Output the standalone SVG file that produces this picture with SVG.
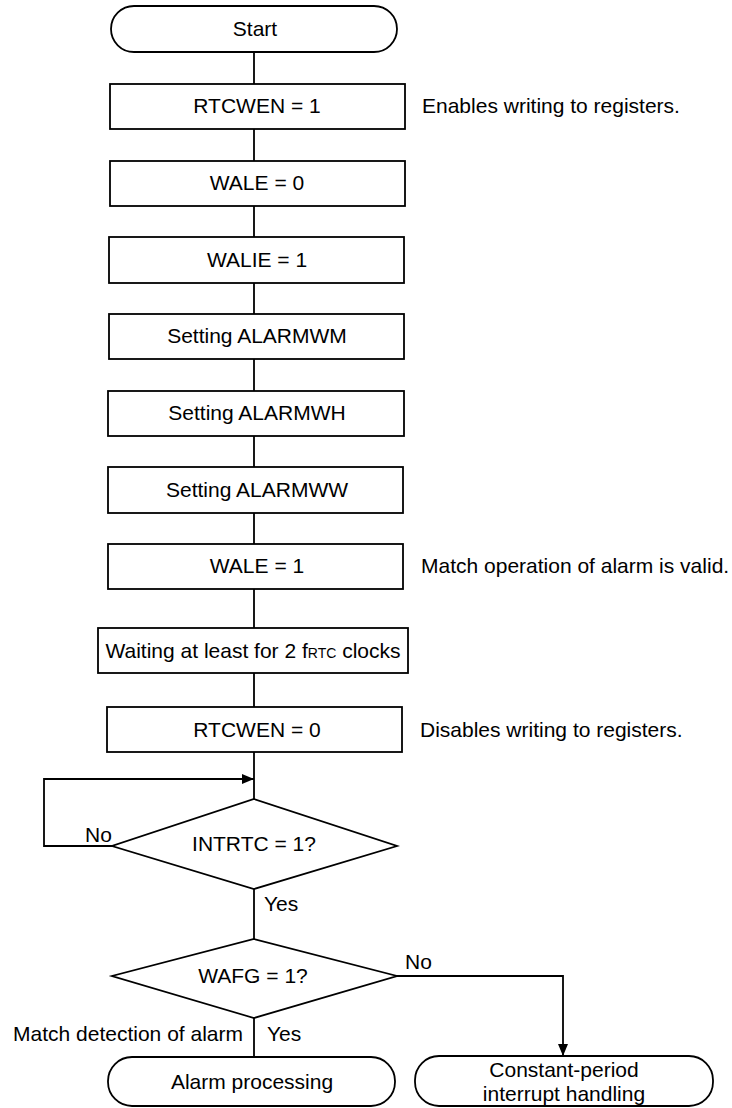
<svg xmlns="http://www.w3.org/2000/svg" width="732" height="1108" viewBox="0 0 732 1108">
<style>
.box{fill:#fff;stroke:#000;stroke-width:1.8}
.ln{fill:none;stroke:#000;stroke-width:1.8}
text{font-family:"Liberation Sans",Arial,sans-serif;font-size:21px;fill:#000}
.c{text-anchor:middle}
.sm{font-size:14px}
</style>
<defs>
<marker id="ah" markerWidth="12" markerHeight="10" refX="12" refY="5" orient="auto" markerUnits="userSpaceOnUse">
<path d="M0,0 L12,5 L0,10 Z" fill="#000"/>
</marker>
</defs>
<g id="connectors">
<path class="ln" d="M254,52 V84 M254,129 V161 M254,206 V237 M254,283 V314 M254,359 V391 M254,436 V467 M254,513 V544 M254,589 V628 M254,673 V707 M254,752 V799"/>
<path class="ln" d="M112,846 H44 V779 H254" marker-end="url(#ah)"/>
<path class="ln" d="M254,889 V939"/>
<path class="ln" d="M254,1018 V1057"/>
<path class="ln" d="M397,976 H563 V1056" marker-end="url(#ah)"/>
</g>
<g id="start"><rect class="box" x="111" y="6" width="286" height="46" rx="23"/><text class="c" x="255" y="36">Start</text></g>
<g id="rtcwen1"><rect class="box" x="110" y="84" width="295" height="45"/><text class="c" x="257" y="113">RTCWEN = 1</text></g>
<text id="note1" x="422" y="113">Enables writing to registers.</text>
<g id="wale0"><rect class="box" x="110" y="161" width="295" height="45"/><text class="c" x="257" y="190">WALE = 0</text></g>
<g id="walie1"><rect class="box" x="109" y="237" width="295" height="46"/><text class="c" x="257" y="267">WALIE = 1</text></g>
<g id="alarmwm"><rect class="box" x="109" y="314" width="295" height="45"/><text class="c" x="257" y="343">Setting ALARMWM</text></g>
<g id="alarmwh"><rect class="box" x="108" y="391" width="296" height="45"/><text class="c" x="257" y="420">Setting ALARMWH</text></g>
<g id="alarmww"><rect class="box" x="108" y="467" width="295" height="46"/><text class="c" x="257" y="497">Setting ALARMWW</text></g>
<g id="wale1"><rect class="box" x="108" y="544" width="295" height="45"/><text class="c" x="257" y="573">WALE = 1</text></g>
<text id="note2" x="421" y="573">Match operation of alarm is valid.</text>
<g id="waiting"><rect class="box" x="98" y="628" width="310" height="45"/><text class="c" x="253" y="658">Waiting at least for 2 f<tspan class="sm">RTC</tspan> clocks</text></g>
<g id="rtcwen0"><rect class="box" x="107" y="707" width="295" height="45"/><text class="c" x="257" y="737">RTCWEN = 0</text></g>
<text id="note3" x="420" y="737">Disables writing to registers.</text>
<g id="intrtc"><polygon class="box" points="254,799 397,846 254,889 112,846"/><text class="c" x="254" y="851">INTRTC = 1?</text></g>
<text x="85" y="842">No</text>
<text x="264" y="911">Yes</text>
<g id="wafg"><polygon class="box" points="254,939 397,976 254,1018 112,976"/><text class="c" x="253" y="983">WAFG = 1?</text></g>
<text x="405" y="969">No</text>
<text x="243" y="1041" text-anchor="end">Match detection of alarm</text>
<text x="267" y="1041">Yes</text>
<g id="alarmproc"><rect class="box" x="108" y="1057" width="287" height="49" rx="24"/><text class="c" x="252" y="1089">Alarm processing</text></g>
<g id="constperiod"><rect class="box" x="415" y="1056" width="298" height="50" rx="24"/><text class="c" x="564" y="1077">Constant-period</text><text class="c" x="564" y="1101">interrupt handling</text></g>
</svg>
